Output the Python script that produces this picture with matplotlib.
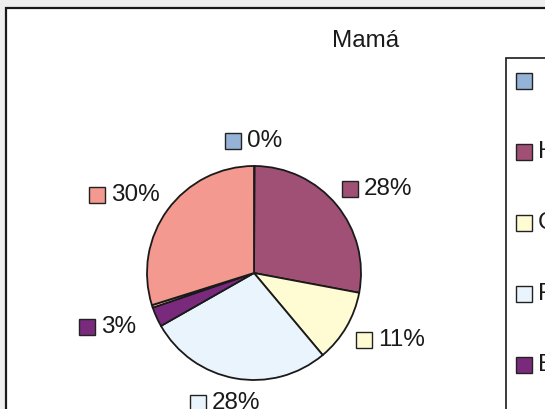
import matplotlib.pyplot as plt
import matplotlib.patches as mpatches
import numpy as np

plt.rcParams['font.family'] = ['Liberation Sans', 'DejaVu Sans']

# datos (porcentajes)
categorias = ['', 'Hogar', 'Comerciante', 'Funcionaria', 'Empleada', 'Independiente', 'Otro']
valores = [0.1, 28, 11, 28, 3, 0.4, 30]
etiquetas = ['0%', '28%', '11%', '28%', '3%', None, '30%']
colores = ['#95B3D7', '#A05075', '#FFFBD2', '#EAF4FC', '#7A2A7C', '#FAD0B0', '#F4998F']

W, H = 545, 409
fig = plt.figure(figsize=(W / 100, H / 100), dpi=100)
fig.patch.set_facecolor('#efefef')
ax = fig.add_axes([0, 0, 1, 1])

def yy(y):
    # coordenadas de imagen -> ejes
    return H - y

# marco del grafico
ax.add_patch(mpatches.Rectangle((6, yy(420)), 560, 412, facecolor='white',
                                edgecolor='#1a1a1a', linewidth=1.6, zorder=0))

cx, cy, r = 254, yy(273), 107
wedges, _ = ax.pie(valores, colors=colores, startangle=90, counterclock=False,
                   center=(cx, cy), radius=r,
                   wedgeprops=dict(edgecolor='#1a1a1a', linewidth=1.3))

fs = 17.5
em = fs * 100 / 72

def ancho(s):
    return sum(0.889 if c == '%' else 0.556 for c in s) * em

# etiquetas de datos con cuadrito de color
for w, lab, col in zip(wedges, etiquetas, colores):
    if lab is None:
        continue
    th = np.deg2rad((w.theta1 + w.theta2) / 2)
    x = cx + 160 * np.cos(th)
    y = cy + 132 * np.sin(th)
    xs = x - (15 + 7 + ancho(lab)) / 2 + 7.5
    ax.plot(xs, y, marker='s', markersize=11, markerfacecolor=col,
            markeredgecolor='#222222', markeredgewidth=1.0, zorder=5)
    ax.text(xs + 14, y, lab, ha='left', va='center', fontsize=fs, color='#1a1a1a')

# titulo
ax.text(366, yy(41), 'Mamá', ha='center', va='center', fontsize=fs, color='#1a1a1a')

# leyenda
ax.add_patch(mpatches.Rectangle((506, yy(420)), 60, 362, facecolor='white',
                                edgecolor='#1a1a1a', linewidth=1.2, zorder=1))
for i, (cat, col) in enumerate(zip(categorias, colores)):
    ly = yy(81 + i * 71)
    ax.plot(524, ly, marker='s', markersize=11, markerfacecolor=col,
            markeredgecolor='#222222', markeredgewidth=1.0, zorder=5)
    ax.text(538, ly, cat, ha='left', va='center', fontsize=fs, color='#1a1a1a',
            clip_on=True)

ax.set_xlim(0, W)
ax.set_ylim(0, H)
ax.axis('off')

fig.savefig('out.png', dpi=100, facecolor=fig.get_facecolor())
